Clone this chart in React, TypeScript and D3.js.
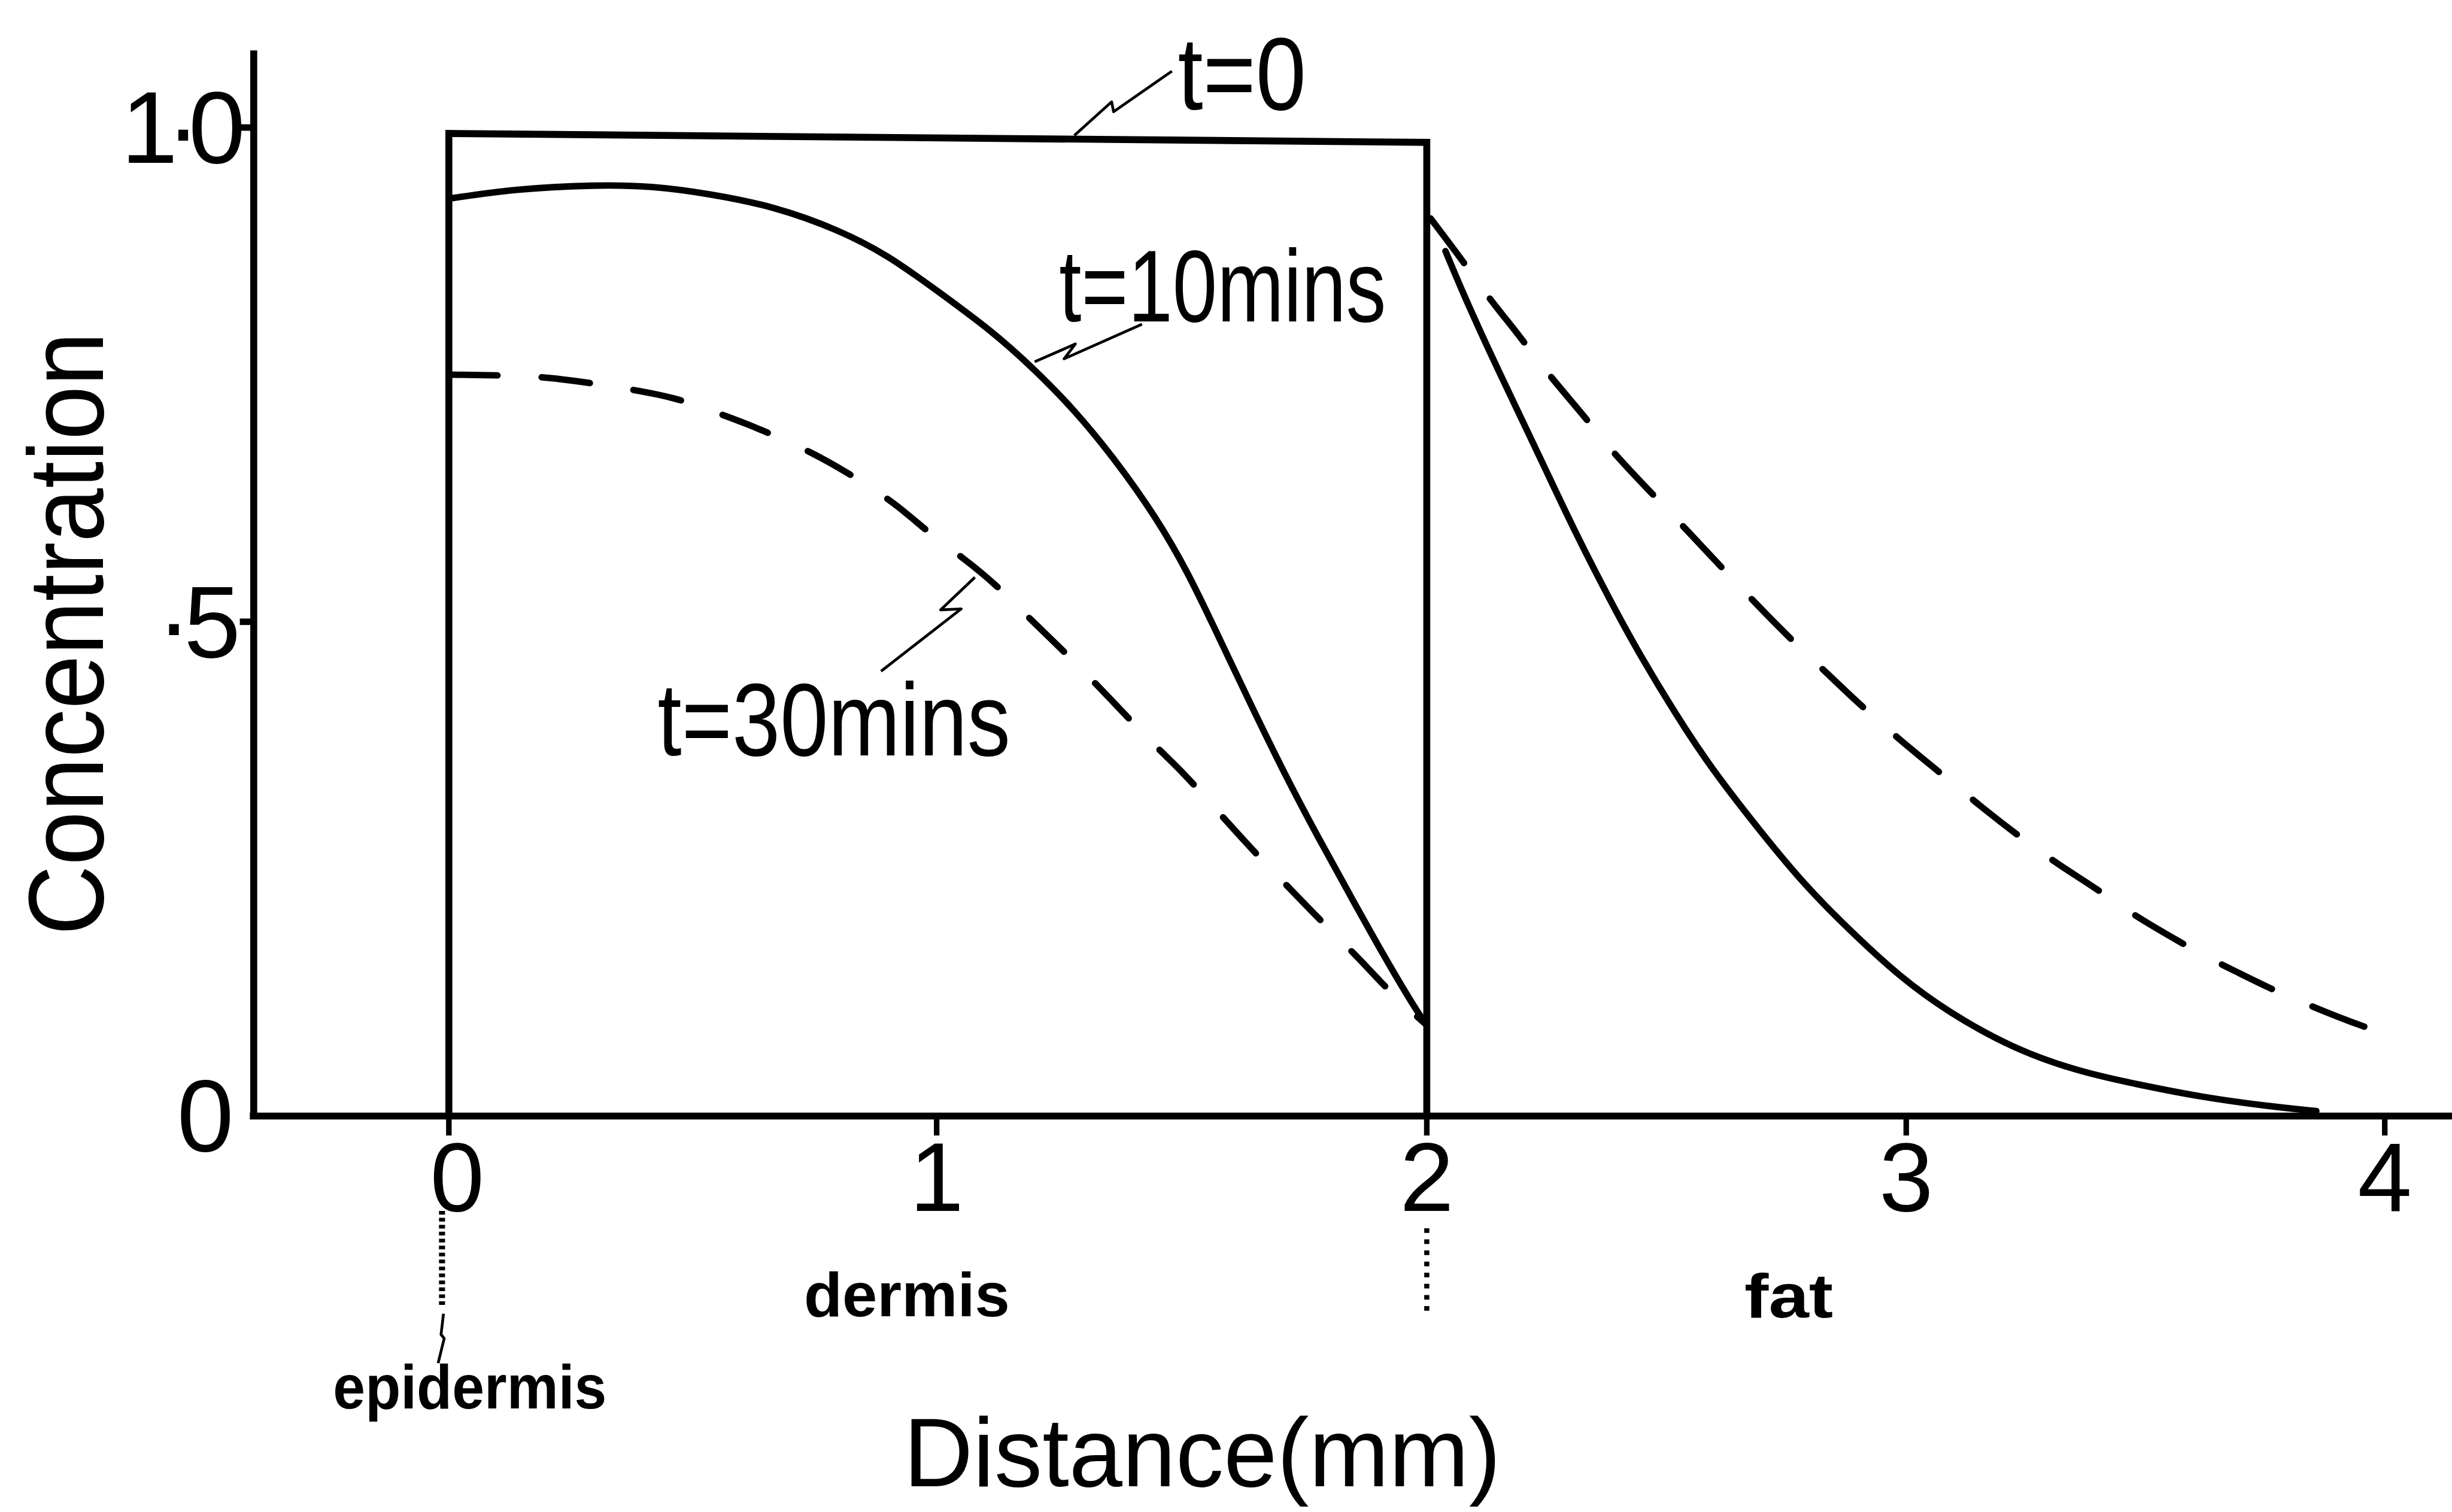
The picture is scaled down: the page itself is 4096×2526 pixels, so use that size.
import React from 'react';
import * as d3 from 'd3';

type Pt = [number, number];

// ---------- data ----------
const xTickValues = [0, 1, 2, 3, 4];
const xTickLabels = ['0', '1', '2', '3', '4'];
const yTickValues = [0, 0.5, 1.0];
const yTickLabels = ['0', '·5', '1·0'];

// t = 0 : uniform concentration in the dermis
const t0Profile: Pt[] = [[0, 0], [0, 0.994], [2, 0.985], [2, 0]];

// t = 10 mins (solid)
const t10Dermis: Pt[] = [
  [0, 0.928], [0.135, 0.938], [0.30, 0.942], [0.415, 0.941], [0.535, 0.933],
  [0.669, 0.920], [0.802, 0.896], [0.902, 0.870], [0.981, 0.842], [1.114, 0.794],
  [1.200, 0.755], [1.280, 0.715], [1.366, 0.663], [1.446, 0.607], [1.512, 0.551],
  [1.578, 0.482], [1.645, 0.412], [1.711, 0.345], [1.778, 0.282], [1.844, 0.223],
  [1.910, 0.164], [1.977, 0.108], [2.0, 0.092],
];
const t10Fat: Pt[] = [
  [2.039, 0.875], [2.075, 0.833], [2.130, 0.774], [2.191, 0.712], [2.246, 0.656],
  [2.313, 0.587], [2.381, 0.523], [2.442, 0.468], [2.544, 0.387], [2.612, 0.340],
  [2.694, 0.289], [2.789, 0.233], [2.884, 0.187], [2.986, 0.141], [3.088, 0.105],
  [3.224, 0.068], [3.360, 0.045], [3.483, 0.032], [3.618, 0.019], [3.755, 0.010],
  [3.857, 0.005],
];

// t = 30 mins (dashed)
const t30Dermis: Pt[] = [
  [0, 0.750], [0.163, 0.749], [0.245, 0.745], [0.389, 0.734], [0.469, 0.726],
  [0.546, 0.712], [0.608, 0.701], [0.702, 0.681], [0.776, 0.663], [0.859, 0.638],
  [0.922, 0.617], [0.981, 0.591], [1.061, 0.562], [1.120, 0.538], [1.184, 0.506],
  [1.237, 0.481], [1.300, 0.450], [1.356, 0.421], [1.402, 0.397], [1.453, 0.371],
  [1.504, 0.347], [1.563, 0.314], [1.608, 0.289], [1.675, 0.253], [1.721, 0.230],
  [1.771, 0.204], [1.820, 0.180], [1.870, 0.155], [1.903, 0.137], [1.956, 0.111],
  [2.0, 0.092],
];
const t30Fat: Pt[] = [
  [2.008, 0.908], [2.086, 0.858], [2.130, 0.827], [2.194, 0.789], [2.252, 0.751],
  [2.334, 0.705], [2.388, 0.671], [2.483, 0.623], [2.534, 0.597], [2.642, 0.541],
  [2.707, 0.508], [2.775, 0.475], [2.837, 0.447], [2.897, 0.419], [2.985, 0.381],
  [3.064, 0.350], [3.166, 0.309], [3.244, 0.280], [3.319, 0.254], [3.398, 0.230],
  [3.476, 0.203], [3.551, 0.182], [3.622, 0.162], [3.686, 0.147], [3.755, 0.130],
  [3.857, 0.109], [3.924, 0.096], [4.030, 0.078],
];

// leader lines for the curve labels (data coordinates)
const t0Leader: Pt[] = [[1.281, 0.992], [1.357, 1.026], [1.361, 1.016], [1.480, 1.057]];
const t10Leader: Pt[] = [[1.200, 0.763], [1.283, 0.781], [1.260, 0.766], [1.419, 0.801]];
const t30Leader: Pt[] = [[0.886, 0.450], [1.050, 0.513], [1.008, 0.512], [1.078, 0.545]];
const epidermisLeader: Pt[] = [[-0.011, -0.200], [-0.016, -0.221], [-0.0095, -0.225], [-0.022, -0.250]];

const curveLabels = ['t=0', 't=10mins', 't=30mins'];
const layerLabels = ['epidermis', 'dermis', 'fat'];

// ---------- layout ----------
const W = 5288;
const H = 3261;
const FONT = "'Liberation Sans', Arial, sans-serif";

export default function App() {
  const x = d3.scaleLinear().domain(xTickValues).range([968, 2020, 3077, 4111, 5143]);
  const y = d3.scaleLinear().domain([0, 1]).range([2407, 275]);

  const smooth = d3.line<Pt>().x(d => x(d[0])).y(d => y(d[1])).curve(d3.curveBasis);
  const poly = d3.line<Pt>().x(d => x(d[0])).y(d => y(d[1]));

  const axisX = x(-0.4);
  const axisY = y(0);

  const sw = 14;

  return (
    <svg
      width={4096}
      height={2526}
      viewBox={`0 0 ${W} ${H}`}
      style={{ position: 'absolute', left: 0, top: 0, background: '#fff' }}
    >
      <rect x={0} y={0} width={W} height={H} fill="#fff" />

      {/* axes */}
      <line x1={axisX} x2={axisX} y1={y(1.078)} y2={axisY} stroke="#000" strokeWidth={15} />
      <line x1={x(-0.408)} x2={W} y1={axisY} y2={axisY} stroke="#000" strokeWidth={15} />

      {/* y ticks + labels */}
      {yTickValues.map((v, i) => (
        <g key={`yt${i}`}>
          {v > 0 && <line x1={axisX - 30} x2={axisX} y1={y(v)} y2={y(v)} stroke="#000" strokeWidth={14} />}
          <text
            x={axisX - 43}
            y={y(v)}
            textAnchor="end"
            dominantBaseline="central"
            fontFamily={FONT}
            fontSize={220}
            letterSpacing={v === 1 ? -25 : v === 0.5 ? -15 : 0}
          >
            {yTickLabels[i]}
          </text>
        </g>
      ))}

      {/* x ticks + labels */}
      {xTickValues.map((v, i) => (
        <g key={`xt${i}`}>
          <line x1={x(v)} x2={x(v)} y1={axisY} y2={axisY + 42} stroke="#000" strokeWidth={12} />
          <text x={x(v) + (v === 0 ? 18 : 0)} y={2612} textAnchor="middle" fontFamily={FONT} fontSize={210}>
            {xTickLabels[i]}
          </text>
        </g>
      ))}

      {/* t = 0 box */}
      <path d={poly(t0Profile) || ''} fill="none" stroke="#000" strokeWidth={15} strokeLinejoin="miter" />

      {/* t = 10 mins, solid */}
      <path d={smooth(t10Dermis) || ''} fill="none" stroke="#000" strokeWidth={sw} strokeLinecap="round" />
      <path d={smooth(t10Fat) || ''} fill="none" stroke="#000" strokeWidth={sw} strokeLinecap="round" />

      {/* t = 30 mins, dashed */}
      <path d={smooth(t30Dermis) || ''} fill="none" stroke="#000" strokeWidth={sw} strokeLinecap="round" strokeDasharray="105 95" />
      <path d={smooth(t30Fat) || ''} fill="none" stroke="#000" strokeWidth={sw} strokeLinecap="round" strokeDasharray="120 95" />

      {/* layer boundary dotted markers */}
      <line x1={x(-0.014)} x2={x(-0.014)} y1={y(-0.096)} y2={y(-0.191)} stroke="#000" strokeWidth={13} strokeDasharray="8 7" />
      <line x1={x(2)} x2={x(2)} y1={y(-0.1135)} y2={y(-0.200)} stroke="#000" strokeWidth={11} strokeDasharray="10 14" />

      {/* leaders */}
      {[t0Leader, t10Leader, t30Leader, epidermisLeader].map((pts, i) => (
        <path key={`ld${i}`} d={poly(pts) || ''} fill="none" stroke="#000" strokeWidth={6} strokeLinejoin="round" />
      ))}

      {/* curve labels */}
      <text x={x(1.492)} y={y(1.018)} fontFamily={FONT} fontSize={223} textLength={277} lengthAdjust="spacingAndGlyphs">
        {curveLabels[0]}
      </text>
      <text x={x(1.250)} y={y(0.804)} fontFamily={FONT} fontSize={221} textLength={705} lengthAdjust="spacingAndGlyphs">
        {curveLabels[1]}
      </text>
      <text x={x(0.428)} y={y(0.365)} fontFamily={FONT} fontSize={223} textLength={761} lengthAdjust="spacingAndGlyphs">
        {curveLabels[2]}
      </text>

      {/* layer labels */}
      <text x={x(0.043)} y={3038} textAnchor="middle" fontFamily={FONT} fontWeight="bold" fontSize={135} textLength={590} lengthAdjust="spacingAndGlyphs">
        {layerLabels[0]}
      </text>
      <text x={x(0.939)} y={2839} textAnchor="middle" fontFamily={FONT} fontWeight="bold" fontSize={135} textLength={444} lengthAdjust="spacingAndGlyphs">
        {layerLabels[1]}
      </text>
      <text x={x(2.755)} y={2842} textAnchor="middle" fontFamily={FONT} fontWeight="bold" fontSize={135} textLength={191} lengthAdjust="spacingAndGlyphs">
        {layerLabels[2]}
      </text>

      {/* axis titles */}
      <text
        transform={`translate(222, ${y(0.488)}) rotate(-90)`}
        textAnchor="middle"
        fontFamily={FONT}
        fontSize={230}
        textLength={1301}
        lengthAdjust="spacingAndGlyphs"
      >
        Concentration
      </text>
      <text x={x(1.542)} y={3205} textAnchor="middle" fontFamily={FONT} fontSize={210} textLength={1288} lengthAdjust="spacingAndGlyphs">
        Distance(mm)
      </text>
    </svg>
  );
}
